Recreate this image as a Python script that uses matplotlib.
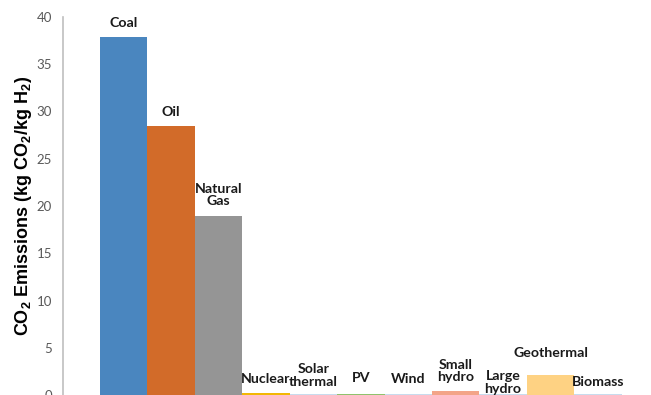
import matplotlib.pyplot as plt
import numpy as np

categories = ['Coal', 'Oil', 'Natural\nGas', 'Nuclear', 'Solar\nthermal', 'PV',
              'Wind', 'Small\nhydro', 'Large\nhydro', 'Geothermal', 'Biomass']
emissions = [37.9, 28.5, 18.9, 0.2, 0.1, 0.15, 0.1, 0.4, 0.1, 2.1, 0.1]
colors = ['#4a86bf', '#d26b29', '#959595', '#f2b705', '#c7dcee', '#8fc26c',
          '#c7dcee', '#f3a488', '#c7dcee', '#fed283', '#c7dcee']
# label gap above each bar, in points
label_offsets = [7, 7, 8, 7, 6, 8, 8, 7, 1, 13, 6]

plt.rcParams['mathtext.fontset'] = 'custom'
plt.rcParams['mathtext.rm'] = 'Liberation Sans'
plt.rcParams['mathtext.bf'] = 'Liberation Sans:bold'

fig = plt.figure(figsize=(6.51, 3.95), dpi=100)
ax = fig.add_axes([63 / 651, 0.0, 1 - 63 / 651, 1 - 17 / 395])

x = np.arange(len(categories))
ax.bar(x, emissions, width=1.0, color=colors)

for xi, v, name, off in zip(x, emissions, categories, label_offsets):
    ax.annotate(name, (xi, v), xytext=(0, off), textcoords='offset points',
                ha='center', va='baseline', fontsize=10.2, fontweight='bold',
                family='Lato', color='#1a1a1a', linespacing=1.05,
                annotation_clip=False)

ax.set_xlim(-1.28, 11.12)
ax.set_ylim(0, 40)
ax.set_yticks(range(0, 41, 5))
ax.set_xticks([])
ax.tick_params(axis='y', length=0, pad=8, labelsize=9.5, labelcolor='#595959')
for lab in ax.get_yticklabels():
    lab.set_family('Lato')

for s in ['top', 'right', 'bottom']:
    ax.spines[s].set_visible(False)
ax.spines['left'].set_color('#bfbfbf')
ax.spines['left'].set_linewidth(1.2)

ax.set_ylabel(r'CO$_\mathbf{2}$ Emissions (kg CO$_\mathbf{2}$/kg H$_\mathbf{2}$)',
              fontsize=13, fontweight='bold', family='Liberation Sans', labelpad=2)

fig.savefig('out.png', dpi=100)
